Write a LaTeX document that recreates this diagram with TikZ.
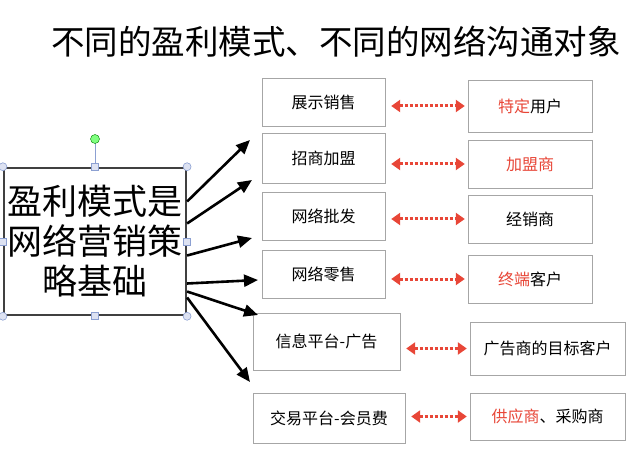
\documentclass[tikz,border=0pt]{standalone}
\usepackage{fontspec}
\setmainfont{Noto Sans CJK SC}
\usetikzlibrary{arrows.meta,calc}
\definecolor{hired}{RGB}{232,70,55}
\definecolor{handle}{RGB}{140,160,210}
\tikzset{
  modebox/.style={draw=black!35, fill=white, minimum height=48pt, font=\fontsize{16}{18}\selectfont},
  linkarrow/.style={<->, >={Triangle[length=9pt,width=12pt]}, hired, line width=3pt, dash pattern=on 3pt off 2pt},
  basearrow/.style={-{Triangle[length=14pt,width=12pt]}, line width=2.6pt},
  hdl/.style={draw=handle, fill=handle!30, line width=0.6pt}
}
\begin{document}
\begin{tikzpicture}[x=1pt,y=-1pt]
    \useasboundingbox (0,0) rectangle (640,457);
    % Titel
    \node[font=\fontsize{33.5}{36}\selectfont] (title) at (336,42) {不同的盈利模式、不同的网络沟通对象};

    % Basis
    \node[draw=black!75, line width=2.5pt, minimum width=170pt, minimum height=147pt, align=center,
          font=\fontsize{35}{40}\selectfont] (base) at (95,241.5) {盈利模式是\\网络营销策\\略基础};
    \draw[handle] (base.north) -- (95,140);
    \node[circle, draw=green!50!black, fill=green!50, minimum width=6pt, minimum height=9pt, inner sep=0pt] (rot) at (95,139) {};
    \foreach \p in {north west,north east,south west,south east}
      \draw[hdl] (base.\p) circle (4pt);
    \foreach \p in {north,south,west,east}
      \draw[hdl] ($(base.\p)+(-3.5,-3.5)$) rectangle ++(7,7);

    % Modelle
    \node[modebox, minimum width=123pt] (m1) at (323.5,102) {展示销售};
    \node[modebox, minimum width=123pt, minimum height=50pt] (m2) at (323.5,158) {招商加盟};
    \node[modebox, minimum width=123pt] (m3) at (323.5,216) {网络批发};
    \node[modebox, minimum width=123pt] (m4) at (323.5,274) {网络零售};
    \node[modebox, minimum width=147pt, minimum height=57pt] (m5) at (326.5,341.5) {信息平台-广告};
    \node[modebox, minimum width=152pt, minimum height=50pt] (m6) at (329,418) {交易平台-会员费};

    % Zielgruppen
    \node[modebox, minimum width=124pt, minimum height=52pt] (t1) at (530,106) {\textcolor{hired}{特定}用户};
    \node[modebox, minimum width=124pt] (t2) at (530,164) {\textcolor{hired}{加盟商}};
    \node[modebox, minimum width=124pt] (t3) at (530,219) {经销商};
    \node[modebox, minimum width=124pt] (t4) at (530,279) {\textcolor{hired}{终端}客户};
    \node[modebox, minimum width=155pt, minimum height=53pt] (t5) at (547.5,348.5) {广告商的目标客户};
    \node[modebox, minimum width=155pt, minimum height=47pt] (t6) at (547.5,416.5) {\textcolor{hired}{供应商}、采购商};

    % Verbindungen
    \foreach \i in {1,...,6}
      \draw[linkarrow] ([xshift=6pt]m\i.east |- t\i.west) -- ([xshift=-3pt]t\i.west);

    % Pfeile
    \coordinate (e1) at (250,140);
    \coordinate (e2) at (252,180);
    \coordinate (e3) at (252,238);
    \coordinate (e4) at (258,280);
    \coordinate (e5) at (258,315);
    \coordinate (e6) at (250,382);
    \draw[basearrow] ([yshift=40pt]base.east) -- (e1);
    \draw[basearrow] ([yshift=18pt]base.east) -- (e2);
    \draw[basearrow] ([yshift=-14pt]base.east) -- (e3);
    \draw[basearrow] ([yshift=-42pt]base.east) -- (e4);
    \draw[basearrow] ([yshift=-50pt]base.east) -- (e5);
    \draw[basearrow] ([yshift=-56pt]base.east) -- (e6);
\end{tikzpicture}
\end{document}
